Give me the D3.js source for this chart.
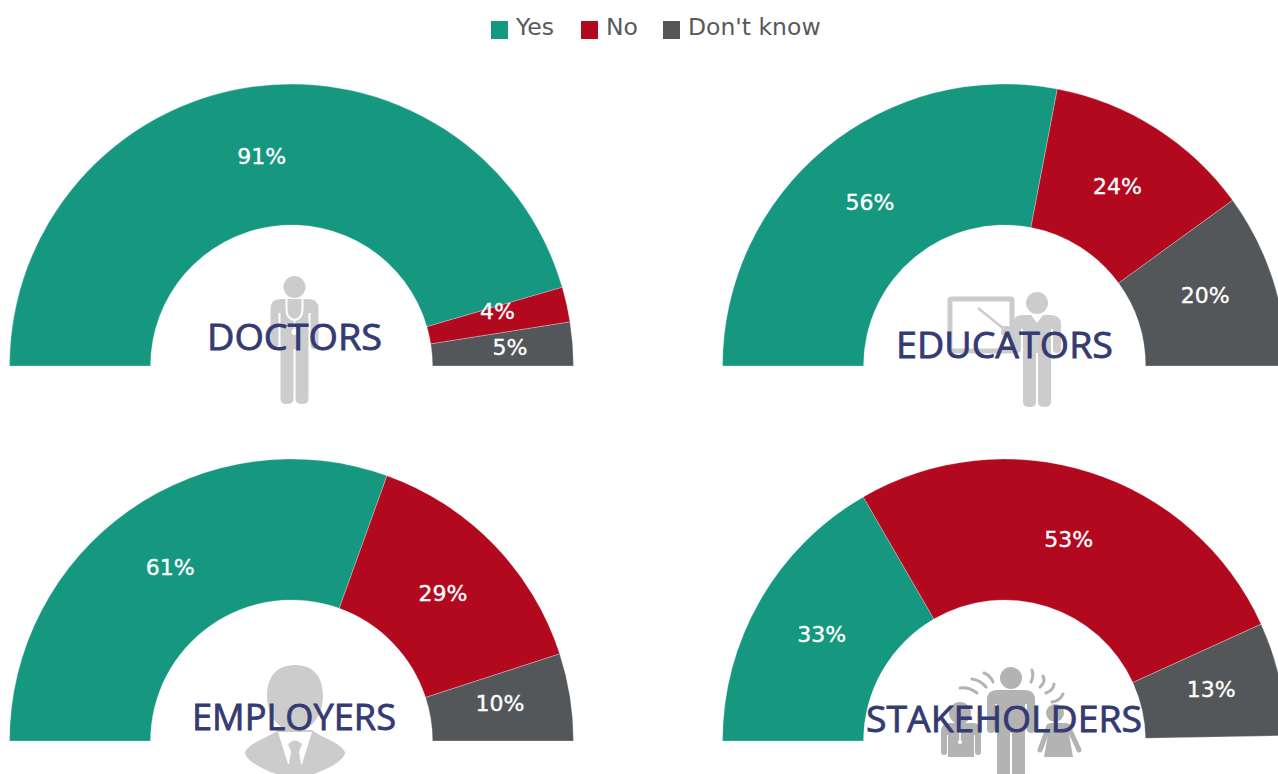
<!DOCTYPE html>
<html>
<head>
<meta charset="utf-8">
<script src="https://cdn.jsdelivr.net/npm/d3@7"></script>
<style>
  html, body { margin: 0; padding: 0; background: #fff; overflow: hidden; }
  svg { display: block; }
</style>
</head>
<body>
<svg width="1278" height="774"></svg>
<script>
// Data
const answers = ["Yes", "No", "Don't know"];
const colors = ["#15987f", "#b2091e", "#54575a"];
const groups = ["DOCTORS", "EDUCATORS", "EMPLOYERS", "STAKEHOLDERS"];
const doctors = [91, 4, 5];
const educators = [56, 24, 20];
const employers = [61, 29, 10];
// this one stops a little short of the full half circle in the original
const stakeholders = [33.3, 53.1, 13];
const shares = [doctors, educators, employers, stakeholders];
const labels = [["91%", "4%", "5%"], ["56%", "24%", "20%"], ["61%", "29%", "10%"], ["33%", "53%", "13%"]];

const svg = d3.select("svg");
const outerR = 282;
const centerX = d3.scalePoint().domain([0, 1]).range([291.5, 1004.5]);
const centerY = d3.scalePoint().domain([0, 1]).range([366, 741]);
const angle = d3.scaleLinear().domain([0, 100]).range([0, Math.PI]);
const arc = d3.arc().innerRadius(141).outerRadius(outerR);
const labelArc = d3.arc().innerRadius(140.5).outerRadius(281.5);

// hand-placed labels and titles, as in the original
const labelShift = { "0-1": [0, -8], "0-2": [8, -1], "1-2": [0, -4], "2-2": [0, -4], "3-2": [1, -4] };
const titlePos = [[294.5, 337], [1004.5, 345], [294, 717], [1004, 719]];
const titleWidth = [175, 217, 204, 276];

// standing figure, origin at the centre of the head
function personPath(armEnd, legEnd, hw) {
  return `M-24,22 Q-24,12 -14,12 L14,12 Q24,12 24,22 L24,${armEnd - 4} Q24,${armEnd} 20,${armEnd} Q16,${armEnd} 16,${armEnd - 4}
    L16,26 L${hw},26 L${hw},${legEnd - 5} Q${hw},${legEnd} ${hw / 2 + 0.5},${legEnd} Q1,${legEnd} 1,${legEnd - 5} L1,${armEnd}
    L-1,${armEnd} L-1,${legEnd - 5} Q-1,${legEnd} ${-hw / 2 - 0.5},${legEnd} Q${-hw},${legEnd} ${-hw},${legEnd - 5} L${-hw},26
    L-16,26 L-16,${armEnd - 4} Q-16,${armEnd} -20,${armEnd} Q-24,${armEnd} -24,${armEnd - 4} Z`;
}

function drawPerson(g, x, y, armEnd, legEnd, fill) {
  const p = g.append("g").attr("transform", `translate(${x},${y})`);
  p.append("circle").attr("r", 11).attr("fill", fill);
  p.append("path").attr("d", personPath(armEnd, legEnd, 14)).attr("fill", fill);
  return p;
}

const icons = [
  g => {
    const p = drawPerson(g, 294.5, 287, 62, 117, "#cccccc");
    p.append("path")
      .attr("d", "M-8,12 L-8,22 Q-8,32 0,33 Q8,32 8,22 L8,12")
      .attr("fill", "none").attr("stroke", "#fff").attr("stroke-width", 2);
    p.append("path").attr("d", "M0,33 L0,44").attr("stroke", "#fff").attr("stroke-width", 1.5);
    p.append("circle").attr("cy", 45).attr("r", 3).attr("fill", "#fff");
  },
  g => {
    g.append("rect")
      .attr("x", 950).attr("y", 299).attr("width", 62).attr("height", 52)
      .attr("rx", 1)
      .attr("fill", "none").attr("stroke", "#cccccc").attr("stroke-width", 5);
    g.append("path").attr("d", "M978,308 L1004,329")
      .attr("stroke", "#cccccc").attr("stroke-width", 2.5);
    drawPerson(g, 1037, 303, 50, 104, "#cccccc");
    g.append("path").attr("d", "M1014,326 L1002,326 L1001,334 L1014,342 Z").attr("fill", "#cccccc");
    g.append("path").attr("d", "M1031,315 L1037,323 L1043,315 Z").attr("fill", "#fff");
  },
  g => {
    g.append("path")
      .attr("d", `M295,665 C316,665 323,680 323,696 C323,712 314,730 295,733 C276,730 267,712 267,696 C267,680 274,665 295,665 Z
        M278,730 L312,730 C322,738 340,742 345,752 C346,760 325,772 300,778 L290,778 C265,772 244,760 245,752 C250,742 268,738 278,730 Z`)
      .attr("fill", "#cccccc");
    g.append("path").attr("d", "M278,732 L288,764 L302,764 L312,732 Z").attr("fill", "#fff");
    g.append("path").attr("d", "M288,744 Q295,737 302,744 L299,752 L303,776 L287,776 L291,752 Z").attr("fill", "#cccccc");
  },
  g => {
    const dark = "#b3b3b3";
    drawPerson(g, 1011, 678, 55, 120, dark);
    // signal arcs round the head
    const waves = [
      "M984,673 Q990,675 993,682", "M972,679 Q980,680 986,687", "M960,688 Q969,687 977,693",
      "M1032,670 Q1034,676 1031,682", "M1043,676 Q1046,682 1040,687", "M1054,684 Q1054,690 1046,693", "M1063,694 Q1060,701 1052,702"
    ];
    g.selectAll("path.wave").data(waves).join("path")
      .attr("class", "wave").attr("d", d => d)
      .attr("fill", "none").attr("stroke", dark).attr("stroke-width", 3).attr("stroke-linecap", "round");
    // child
    g.append("path")
      .attr("d", `M949,723 L973,723 Q981,723 981,732 L981,752 Q981,755 978,755 Q975,755 975,752 L975,735 L974,735 L974,757
        L948,757 L948,735 L947,735 L947,752 Q947,755 944,755 Q941,755 941,752 L941,732 Q941,723 949,723 Z`)
      .attr("fill", dark);
    g.append("circle").attr("cx", 960).attr("cy", 713).attr("r", 11).attr("fill", dark);
    g.append("path").attr("d", "M960,723 L960,742").attr("stroke", "#fff").attr("stroke-width", 1.5);
    g.append("circle").attr("cx", 960).attr("cy", 742).attr("r", 2).attr("fill", "#fff");
    // woman
    g.append("circle").attr("cx", 1055).attr("cy", 713).attr("r", 9).attr("fill", dark);
    g.append("path").attr("d", "M1050,723 L1067,723 L1073,757 L1044,757 Z").attr("fill", dark);
    g.append("path").attr("d", "M1049,726 L1040,750 M1068,726 L1079,750")
      .attr("stroke", dark).attr("stroke-width", 5).attr("stroke-linecap", "round");
  }
];

groups.forEach((name, i) => {
  const cx = centerX(i % 2), cy = centerY(i > 1 ? 1 : 0);
  const vals = shares[i];
  const pie = d3.pie().sort(null)
    .startAngle(-Math.PI / 2)
    .endAngle(-Math.PI / 2 + angle(d3.sum(vals)));
  const slices = pie(vals);
  const g = svg.append("g");

  const gauge = g.append("g").attr("transform", `translate(${cx},${cy})`);
  gauge.selectAll("path").data(slices).join("path")
    .attr("d", arc)
    .attr("fill", (d, j) => colors[j])
    .attr("stroke", "#fff").attr("stroke-opacity", 0.45).attr("stroke-width", 0.6);

  icons[i](g);

  g.append("text")
    .attr("x", titlePos[i][0]).attr("y", titlePos[i][1])
    .attr("text-anchor", "middle").attr("dy", "0.36em")
    .attr("textLength", titleWidth[i])
    .attr("lengthAdjust", "spacingAndGlyphs")
    .style("font-family", "'Open Sans'")
    .style("font-size", "37px")
    .style("fill", "#343a72")
    .style("stroke", "#343a72")
    .style("stroke-width", 0.8)
    .text(name);

  gauge.selectAll("text").data(slices).join("text")
    .attr("transform", (d, j) => {
      const [x, y] = labelArc.centroid(d);
      const s = labelShift[`${i}-${j}`] || [0, 0];
      return `translate(${x + s[0]},${y + s[1]})`;
    })
    .attr("text-anchor", "middle").attr("dy", "0.3em")
    .style("font-family", "'DejaVu Sans'")
    .style("font-size", "22px")
    .style("fill", "#fff")
    .style("stroke", "#fff")
    .style("stroke-width", 0.35)
    .text((d, j) => labels[i][j]);
});

// Legend
const legendX = d3.scaleOrdinal().domain(answers).range([491, 581, 663]);
const legend = svg.append("g").selectAll("g").data(answers).join("g")
  .attr("transform", d => `translate(${legendX(d)},21)`);
legend.append("rect").attr("width", 17).attr("height", 18).attr("fill", (d, i) => colors[i]);
legend.append("text")
  .attr("x", 25).attr("y", 14)
  .style("font-family", "'DejaVu Sans'")
  .style("font-size", "23.5px")
  .style("fill", "#58595b")
  .text(d => d);
</script>
</body>
</html>
